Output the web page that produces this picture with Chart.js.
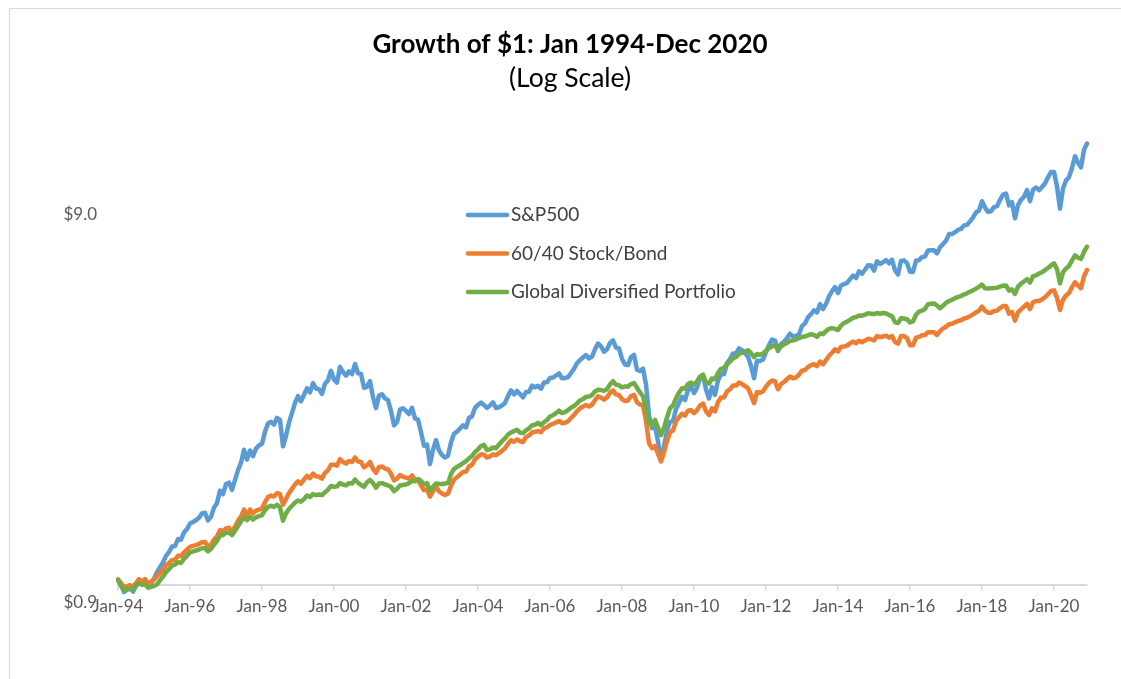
<!DOCTYPE html>
<html>
<head>
<meta charset="utf-8">
<script src="https://cdn.jsdelivr.net/npm/chart.js@4.4.1/dist/chart.umd.min.js"></script>
<style>
html,body{margin:0;padding:0;background:#fff;overflow:hidden;}
#wrap{position:relative;width:1121px;height:679px;}
canvas{position:absolute;left:0;top:0;}
</style>
</head>
<body>
<div id="wrap"><canvas id="c" width="1121" height="679"></canvas></div>
<script>
// ---------------- data ----------------
const TITLE = 'Growth of $1: Jan 1994-Dec 2020';
const SUBTITLE = '(Log Scale)';
const MONTHS = ['Jan','Feb','Mar','Apr','May','Jun','Jul','Aug','Sep','Oct','Nov','Dec'];
const YEARS = [1994,1995,1996,1997,1998,1999,2000,2001,2002,2003,2004,2005,2006,2007,2008,2009,2010,2011,2012,2013,2014,2015,2016,2017,2018,2019,2020];
const SERIES_NAMES = ['S&P500', '60/40 Stock/Bond', 'Global Diversified Portfolio'];
const Y_TICKS = [0.9, 9];
const X_LABEL_EVERY = 24;

const sp500 = [
1.034,1.005,0.961,0.974,0.988,0.963,0.995,1.036,1.010,1.033,0.997,1.013,
1.039,1.080,1.112,1.144,1.190,1.217,1.257,1.261,1.314,1.309,1.367,1.394,
1.441,1.454,1.469,1.491,1.530,1.536,1.468,1.499,1.583,1.627,1.751,1.714,
1.820,1.835,1.758,1.863,1.977,2.066,2.229,2.104,2.220,2.147,2.245,2.287,
2.312,2.479,2.605,2.631,2.586,2.692,2.662,2.276,2.422,2.618,2.775,2.941,
3.065,2.970,3.089,3.209,3.132,3.307,3.205,3.189,3.103,3.298,3.364,3.559,
3.381,3.317,3.642,3.533,3.459,3.545,3.488,3.704,3.508,3.494,3.218,3.235,
3.348,3.043,2.852,3.074,3.096,3.022,2.992,2.803,2.576,2.625,2.827,2.850,
2.807,2.754,2.858,2.684,2.665,2.476,2.283,2.299,2.048,2.229,2.360,2.220,
2.162,2.130,2.151,2.328,2.451,2.483,2.528,2.576,2.548,2.693,2.717,2.857,
2.908,2.949,2.905,2.858,2.898,2.953,2.856,2.867,2.899,2.942,3.063,3.169,
3.093,3.158,3.101,3.042,3.139,3.143,3.259,3.230,3.256,3.201,3.322,3.324,
3.410,3.420,3.461,3.506,3.405,3.408,3.429,3.511,3.602,3.721,3.792,3.849,
3.907,3.829,3.871,4.041,4.183,4.112,3.984,4.044,4.194,4.261,4.082,4.061,
3.817,3.695,3.680,3.860,3.910,3.582,3.553,3.603,3.282,2.731,2.534,2.558,
2.343,2.092,2.276,2.494,2.634,2.639,2.840,2.942,3.051,2.993,3.173,3.236,
3.119,3.216,3.409,3.463,3.186,3.020,3.232,3.086,3.361,3.489,3.489,3.725,
3.814,3.944,3.944,4.062,4.018,3.949,3.871,3.662,3.405,3.777,3.769,3.803,
3.974,4.145,4.282,4.256,4.001,4.165,4.223,4.320,4.432,4.353,4.379,4.412,
4.641,4.706,4.885,4.978,5.092,5.026,5.282,5.129,5.288,5.531,5.697,5.841,
5.637,5.896,5.943,5.985,6.123,6.252,6.164,6.411,6.321,6.473,6.648,6.641,
6.442,6.809,6.700,6.767,6.855,6.725,6.866,6.454,6.293,6.822,6.842,6.734,
6.397,6.391,6.826,6.853,6.976,6.997,7.256,7.263,7.263,7.132,7.396,7.542,
7.685,7.993,8.001,8.081,8.194,8.243,8.416,8.441,8.618,8.816,9.089,9.186,
9.710,9.351,9.117,9.154,9.374,9.430,9.779,10.102,10.163,9.472,9.661,8.782,
9.485,9.788,9.974,10.373,9.709,10.389,10.534,10.366,10.563,10.795,11.184,11.548,
11.548,10.601,9.287,10.476,10.979,11.199,11.826,12.678,12.196,11.867,13.160,13.670
];

const stockBond6040 = [
1.035,1.012,0.990,0.993,1.000,0.992,1.012,1.035,1.022,1.036,1.012,1.020,
1.035,1.055,1.075,1.095,1.125,1.140,1.160,1.162,1.190,1.188,1.215,1.235,
1.255,1.262,1.268,1.276,1.290,1.292,1.258,1.272,1.310,1.335,1.385,1.375,
1.400,1.405,1.368,1.415,1.465,1.500,1.565,1.515,1.565,1.530,1.555,1.565,
1.575,1.635,1.685,1.700,1.690,1.725,1.715,1.610,1.665,1.725,1.770,1.815,
1.850,1.825,1.870,1.910,1.885,1.935,1.905,1.900,1.880,1.945,1.975,2.040,
2.040,2.030,2.110,2.075,2.055,2.085,2.075,2.130,2.080,2.075,2.010,2.035,
2.075,1.990,1.945,2.015,2.020,1.995,1.985,1.935,1.860,1.880,1.920,1.900,
1.890,1.880,1.915,1.865,1.860,1.805,1.755,1.765,1.690,1.745,1.790,1.745,
1.720,1.705,1.720,1.800,1.870,1.895,1.925,1.955,1.960,2.020,2.040,2.105,
2.140,2.170,2.165,2.130,2.145,2.170,2.160,2.185,2.215,2.250,2.310,2.360,
2.340,2.370,2.345,2.335,2.405,2.425,2.470,2.480,2.490,2.475,2.530,2.545,
2.585,2.600,2.620,2.645,2.610,2.615,2.640,2.690,2.740,2.800,2.850,2.880,
2.905,2.880,2.910,2.990,3.060,3.035,3.000,3.040,3.120,3.170,3.095,3.080,
3.010,2.975,2.985,3.065,3.085,2.950,2.915,2.900,2.650,2.320,2.250,2.280,
2.180,2.080,2.200,2.350,2.470,2.500,2.640,2.700,2.760,2.730,2.810,2.820,
2.770,2.820,2.900,2.930,2.800,2.740,2.850,2.800,2.960,3.040,3.040,3.150,
3.190,3.260,3.260,3.320,3.290,3.250,3.210,3.080,2.940,3.140,3.125,3.150,
3.240,3.310,3.360,3.345,3.190,3.290,3.330,3.385,3.440,3.405,3.420,3.480,
3.560,3.575,3.640,3.680,3.700,3.660,3.760,3.700,3.790,3.890,3.960,4.040,
3.990,4.100,4.110,4.130,4.185,4.230,4.190,4.250,4.215,4.255,4.300,4.290,
4.260,4.370,4.340,4.360,4.380,4.330,4.370,4.220,4.180,4.370,4.370,4.320,
4.140,4.140,4.330,4.350,4.390,4.400,4.470,4.470,4.470,4.400,4.500,4.570,
4.620,4.690,4.700,4.740,4.780,4.800,4.850,4.870,4.920,4.970,5.030,5.080,
5.200,5.080,5.020,5.020,5.070,5.080,5.160,5.220,5.220,4.990,5.040,4.790,
5.030,5.120,5.200,5.290,5.130,5.340,5.380,5.380,5.430,5.500,5.600,5.710,
5.730,5.480,5.100,5.420,5.560,5.640,5.840,6.010,5.900,5.800,6.230,6.460
];

const globalDiversified = [
1.030,0.995,0.972,0.975,0.978,0.978,0.998,1.012,1.002,1.005,0.985,0.990,
0.995,1.005,1.030,1.052,1.080,1.100,1.122,1.130,1.145,1.142,1.168,1.190,
1.215,1.222,1.228,1.235,1.245,1.245,1.222,1.240,1.272,1.300,1.345,1.345,
1.365,1.365,1.345,1.380,1.420,1.460,1.495,1.470,1.500,1.475,1.495,1.505,
1.515,1.560,1.590,1.600,1.590,1.610,1.585,1.465,1.530,1.570,1.600,1.630,
1.650,1.640,1.665,1.700,1.685,1.715,1.705,1.710,1.705,1.735,1.760,1.800,
1.790,1.795,1.830,1.815,1.805,1.830,1.825,1.870,1.835,1.810,1.790,1.840,
1.865,1.830,1.780,1.825,1.830,1.815,1.805,1.790,1.745,1.770,1.805,1.810,
1.815,1.830,1.855,1.850,1.875,1.855,1.815,1.830,1.750,1.790,1.825,1.820,
1.820,1.825,1.830,1.930,1.990,2.015,2.035,2.060,2.085,2.120,2.150,2.200,
2.235,2.280,2.295,2.225,2.235,2.260,2.250,2.300,2.345,2.385,2.440,2.470,
2.490,2.510,2.470,2.460,2.500,2.530,2.575,2.585,2.615,2.580,2.625,2.660,
2.715,2.735,2.770,2.810,2.770,2.785,2.820,2.860,2.890,2.935,2.985,3.010,
3.050,3.055,3.085,3.150,3.180,3.175,3.160,3.190,3.280,3.345,3.275,3.265,
3.225,3.245,3.240,3.290,3.310,3.220,3.130,3.060,2.840,2.620,2.580,2.660,
2.540,2.430,2.540,2.700,2.850,2.900,3.020,3.130,3.210,3.200,3.290,3.320,
3.280,3.340,3.440,3.480,3.320,3.300,3.400,3.390,3.510,3.600,3.620,3.700,
3.760,3.830,3.860,3.930,3.960,3.990,4.020,3.950,3.860,3.930,3.910,3.940,
4.010,4.070,4.110,4.150,4.030,4.110,4.160,4.200,4.250,4.260,4.280,4.320,
4.350,4.360,4.390,4.420,4.400,4.350,4.440,4.420,4.500,4.560,4.580,4.560,
4.530,4.650,4.720,4.760,4.810,4.870,4.890,4.940,4.930,4.960,5.000,4.990,
4.980,5.010,4.990,5.010,5.000,4.950,4.920,4.740,4.720,4.860,4.850,4.830,
4.740,4.770,4.960,5.050,5.080,5.130,5.280,5.290,5.300,5.240,5.150,5.230,
5.320,5.380,5.420,5.470,5.510,5.540,5.590,5.630,5.680,5.730,5.790,5.850,
5.930,5.800,5.790,5.800,5.810,5.820,5.860,5.890,5.900,5.720,5.760,5.610,
5.860,5.960,6.040,6.120,6.000,6.230,6.260,6.330,6.380,6.460,6.540,6.640,
6.720,6.500,5.970,6.380,6.520,6.620,6.840,7.050,6.950,6.900,7.200,7.420
];

// month categories "Jan-94" ... "Dec-20"
const categories = [];
YEARS.forEach(y => MONTHS.forEach(m => categories.push(m + '-' + String(y).slice(2))));

// ---------------- styling ----------------
const COLORS = ['#5B9BD5', '#ED7D31', '#70AD47'];
const FONT = 'Lato, "Open Sans", "Liberation Sans", sans-serif';

const frame = {
  id: 'frame',
  beforeDraw(chart) {
    const ctx = chart.ctx;
    ctx.save();
    ctx.fillStyle = '#ffffff';
    ctx.fillRect(0, 0, chart.width, chart.height);
    ctx.strokeStyle = '#d9d9d9';
    ctx.lineWidth = 1;
    ctx.strokeRect(9.5, 8.5, 1300, 900);
    ctx.restore();
  }
};

const insideLegend = {
  id: 'insideLegend',
  afterDatasetsDraw(chart, args, opts) {
    const ctx = chart.ctx;
    ctx.save();
    ctx.font = opts.fontSize + 'px ' + FONT;
    ctx.textBaseline = 'middle';
    ctx.textAlign = 'left';
    chart.data.datasets.forEach((ds, i) => {
      const y = opts.y0 + i * opts.dy;
      ctx.strokeStyle = ds.borderColor;
      ctx.lineWidth = 4.5;
      ctx.lineCap = 'round';
      ctx.beginPath();
      ctx.moveTo(opts.x0, y);
      ctx.lineTo(opts.x1, y);
      ctx.stroke();
      ctx.fillStyle = '#404040';
      ctx.fillText(ds.label, opts.textX, y);
    });
    ctx.restore();
  }
};

const seriesData = [sp500, stockBond6040, globalDiversified];
const datasets = SERIES_NAMES.map((name, i) => ({
  label: name,
  data: seriesData[i],
  borderColor: COLORS[i],
  backgroundColor: COLORS[i],
  borderWidth: 4.5,
  pointRadius: 0,
  pointHoverRadius: 0,
  tension: 0,
  fill: false,
  borderJoinStyle: 'round',
  borderCapStyle: 'round',
  order: 3 - i
}));

new Chart(document.getElementById('c'), {
  type: 'line',
  data: { labels: categories, datasets },
  plugins: [frame, insideLegend],
  options: {
    responsive: false,
    animation: false,
    devicePixelRatio: 1,
    layout: { padding: { left: 53, right: 34, top: 0, bottom: 76 } },
    plugins: {
      legend: { display: false },
      tooltip: { enabled: false },
      title: {
        display: true,
        text: TITLE,
        color: '#000000',
        font: { family: FONT, size: 26, weight: 'bold', lineHeight: 1.2 },
        padding: { top: 29, bottom: 0 }
      },
      subtitle: {
        display: true,
        text: SUBTITLE,
        color: '#000000',
        font: { family: FONT, size: 26.5, weight: 'normal', lineHeight: 1.2 },
        padding: { top: 2, bottom: 21 }
      },
      insideLegend: { x0: 468, x1: 507, textX: 511, y0: 215, dy: 38.5, fontSize: 19 }
    },
    scales: {
      x: {
        type: 'category',
        position: { y: 1 },
        offset: false,
        grid: { display: true, drawOnChartArea: false, drawTicks: true, tickLength: 5, color: '#d9d9d9', lineWidth: 1.5 },
        border: { display: true, color: '#d9d9d9', width: 2 },
        ticks: {
          autoSkip: false,
          maxRotation: 0,
          minRotation: 0,
          padding: 6,
          color: '#595959',
          font: { family: FONT, size: 17 },
          callback: function (val, idx) { return idx % X_LABEL_EVERY === 0 ? this.getLabelForValue(val) : null; }
        }
      },
      y: {
        type: 'logarithmic',
        position: 'left',
        min: 0.9,
        max: 16.18,
        grid: { display: false, drawTicks: false },
        border: { display: false },
        ticks: {
          padding: 21,
          color: '#595959',
          font: { family: FONT, size: 17 },
          callback: (v) => '$' + Number(v).toFixed(1)
        },
        afterBuildTicks(scale) { scale.ticks = Y_TICKS.map(v => ({ value: v })); },
        afterFit(scale) { scale.width = 65; }
      }
    }
  }
});
</script>
</body>
</html>
